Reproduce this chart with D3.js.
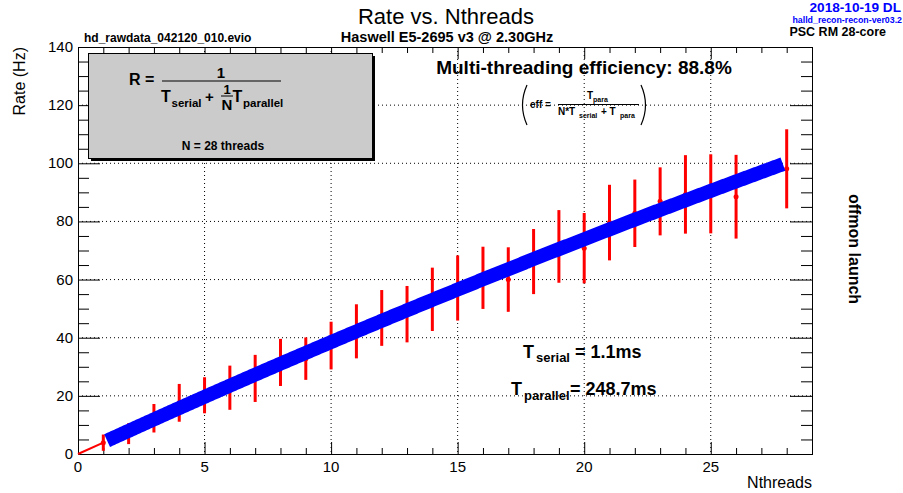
<!DOCTYPE html>
<html><head><meta charset="utf-8">
<script src="https://cdn.jsdelivr.net/npm/d3@7"></script>
<style>
body{margin:0;background:#fff}
svg text{font-family:"Liberation Sans",Arial,Helvetica,sans-serif}
</style>
</head><body>
<svg id="c" width="903" height="493"></svg>
<script>
// ---- data ----
const nThreads   = [1,2,3,4,5,6,7,8,9,10,11,12,13,14,15,16,17,18,19,20,21,22,23,24,25,26,28];
const rates      = [3.9,7.0,12.3,17.6,20.2,22.8,26.0,31.5,32.8,37.3,42.2,46.8,48.1,53.2,57.1,60.6,60.0,66.2,71.4,70.8,79.6,82.8,86.9,89.3,89.5,88.5,98.1];
const rateErrors = [2.8,3.6,4.9,6.5,6.2,7.6,8.1,8.1,7.3,8.2,9.3,9.6,9.7,10.9,11.2,10.7,11.1,11.2,12.5,12.1,13.0,11.6,11.7,13.5,13.6,14.4,13.6];
const xTickLabels = [0,5,10,15,20,25];
const yTickLabels = [0,20,40,60,80,100,120,140];
const tSerial = 1.1;     // ms
const tParallel = 248.7; // ms
const fitRange = [1.15, 27.85];

// ---- layout ----
const svg = d3.select("#c");
const L = 78, R = 812, T = 47, B = 454;
const x = d3.scaleLinear().domain([0, 29]).range([L, R]);
const y = d3.scaleLinear().domain([0, 140]).range([B, T]);

// grid
const g = svg.append("g");
g.selectAll("line.gx").data(xTickLabels.filter(d => d > 0)).join("line")
  .attr("x1", d => x(d)).attr("x2", d => x(d)).attr("y1", T).attr("y2", B)
  .attr("stroke", "#000").attr("stroke-width", 1).attr("stroke-dasharray", "1,3");
g.selectAll("line.gy").data(yTickLabels.filter(d => d > 0 && d < 140)).join("line")
  .attr("y1", d => y(d)).attr("y2", d => y(d)).attr("x1", L).attr("x2", R)
  .attr("stroke", "#000").attr("stroke-width", 1).attr("stroke-dasharray", "1,3");

// axes
const xMinor = d3.range(0, 30, 1);
const yMinor = d3.range(0, 141, 5);
function tickLen(isMajor, maj, min){ return isMajor ? maj : min; }
const axG = svg.append("g").attr("stroke", "#000").attr("stroke-width", 1);
axG.selectAll("line.xb").data(xMinor).join("line")
  .attr("x1", d => x(d)+0.5).attr("x2", d => x(d)+0.5)
  .attr("y1", B).attr("y2", d => B - tickLen(d % 5 === 0, 12, 6));
axG.selectAll("line.xt").data(xMinor).join("line")
  .attr("x1", d => x(d)+0.5).attr("x2", d => x(d)+0.5)
  .attr("y1", T).attr("y2", d => T + tickLen(d % 5 === 0, 12, 6));
axG.selectAll("line.yl").data(yMinor).join("line")
  .attr("y1", d => y(d)+0.5).attr("y2", d => y(d)+0.5)
  .attr("x1", L).attr("x2", d => L + tickLen(d % 20 === 0, 22, 11));
axG.selectAll("line.yr").data(yMinor).join("line")
  .attr("y1", d => y(d)+0.5).attr("y2", d => y(d)+0.5)
  .attr("x1", R).attr("x2", d => R - tickLen(d % 20 === 0, 22, 11));
svg.append("rect").attr("x", L+0.5).attr("y", T+0.5).attr("width", R-L).attr("height", B-T)
  .attr("fill", "none").attr("stroke", "#000").attr("stroke-width", 1);

// tick labels
svg.append("g").selectAll("text").data(xTickLabels).join("text")
  .attr("x", d => x(d)).attr("y", 472).attr("text-anchor", "middle")
  .attr("font-size", 15).text(d => d);
svg.append("g").selectAll("text").data(yTickLabels).join("text")
  .attr("x", 73).attr("y", d => y(d) + 5).attr("text-anchor", "end")
  .attr("font-size", 15).text(d => d);

// axis titles
svg.append("text").attr("x", R).attr("y", 488).attr("text-anchor", "end")
  .attr("font-size", 16).text("Nthreads");
svg.append("text").attr("transform", `translate(25,${T}) rotate(-90)`)
  .attr("text-anchor", "end").attr("font-size", 16).text("Rate (Hz)");

// data: error bars, markers, line from origin
const pts = nThreads.map((n, i) => ({n, r: rates[i], e: rateErrors[i]}));
svg.append("path").datum([{n:0, r:0}, pts[0]])
  .attr("d", d3.line().x(d => x(d.n)).y(d => y(d.r)))
  .attr("stroke", "#ff0000").attr("stroke-width", 2).attr("fill", "none");
svg.append("g").selectAll("line").data(pts).join("line")
  .attr("x1", d => x(d.n)).attr("x2", d => x(d.n))
  .attr("y1", d => y(d.r - d.e)).attr("y2", d => y(d.r + d.e))
  .attr("stroke", "#ff0000").attr("stroke-width", 3);
svg.append("g").selectAll("circle").data(pts).join("circle")
  .attr("cx", d => x(d.n)).attr("cy", d => y(d.r)).attr("r", 2.5)
  .attr("fill", "#ff0000");

// fit curve (drawn over the graph, as in the reference)
const fitN = d3.range(fitRange[0], fitRange[1] + 1e-9, 0.05);
const fitLine = d3.line().x(n => x(n)).y(n => y(1000 / (tSerial + tParallel / n)));
svg.append("path").datum(fitN).attr("d", fitLine)
  .attr("fill", "none").attr("stroke", "#0000ff").attr("stroke-width", 14)
  .attr("stroke-linecap", "butt").attr("stroke-linejoin", "round");

// formula box
svg.append("rect").attr("x", 91).attr("y", 56).attr("width", 284).attr("height", 105).attr("fill", "#000");
svg.append("rect").attr("x", 88.5).attr("y", 53.5).attr("width", 284).attr("height", 105)
  .attr("fill", "#cbcbcb").attr("stroke", "#000").attr("stroke-width", 1);
function txt(xp, yp, s, size, opts = {}) {
  return svg.append("text").attr("x", xp).attr("y", yp).attr("font-size", size)
    .attr("font-weight", opts.weight || "bold").attr("fill", opts.fill || "#000")
    .attr("text-anchor", opts.anchor || "start").text(s);
}
txt(129, 85, "R =", 16);
txt(221, 78, "1", 15, {anchor: "middle"});
svg.append("line").attr("x1", 162).attr("x2", 281).attr("y1", 81).attr("y2", 81).attr("stroke", "#000").attr("stroke-width", 1.2);
txt(161, 102, "T", 16);
txt(171.5, 106.5, "serial", 11.5);
txt(205, 102, "+", 15);
txt(227, 94, "1", 13, {anchor: "middle"});
svg.append("line").attr("x1", 221).attr("x2", 233).attr("y1", 96).attr("y2", 96).attr("stroke", "#000").attr("stroke-width", 1);
txt(227, 110, "N", 15, {anchor: "middle"});
txt(232.5, 102, "T", 16);
txt(243, 106.5, "parallel", 11.5);
txt(223, 150, "N = 28 threads", 12, {anchor: "middle"});

// header texts
txt(446, 24, "Rate vs. Nthreads", 22, {weight: "normal", anchor: "middle"});
txt(84, 42, "hd_rawdata_042120_010.evio", 12);
txt(447, 42, "Haswell E5-2695 v3 @ 2.30GHz", 14.5, {anchor: "middle"});
txt(901, 12.4, "2018-10-19 DL", 13.6, {fill: "#0000ff", anchor: "end"});
txt(902, 23.2, "halld_recon-recon-ver03.2", 8.8, {fill: "#0000ff", anchor: "end"});
txt(886, 36.2, "PSC RM 28-core", 12.5, {anchor: "end"});

// efficiency
txt(584, 74, "Multi-threading efficiency: 88.8%", 19, {anchor: "middle"});
txt(530, 108, "eff =", 10);
svg.append("line").attr("x1", 558).attr("x2", 639).attr("y1", 104.5).attr("y2", 104.5).attr("stroke", "#000").attr("stroke-width", 1);
txt(587, 99, "T", 10);
txt(593, 101.5, "para", 7);
txt(558, 115, "N*T", 10);
txt(579, 118, "serial", 7);
txt(601, 115, "+ T", 10);
txt(620, 118, "para", 7);
svg.append("path").attr("d", "M527,85 Q518,105 527,125").attr("fill", "none").attr("stroke", "#000").attr("stroke-width", 1.2);
svg.append("path").attr("d", "M641,85 Q650,105 641,125").attr("fill", "none").attr("stroke", "#000").attr("stroke-width", 1.2);

// fit params
txt(523, 358, "T", 18);
txt(536, 362, "serial", 13);
txt(575, 358, `= ${tSerial}ms`, 18);
txt(511, 395, "T", 18);
txt(524, 400, "parallel", 13);
txt(570, 395, `= ${tParallel}ms`, 18);

// side label
svg.append("text").attr("transform", "translate(849,249) rotate(90)")
  .attr("text-anchor", "middle").attr("font-size", 16).attr("font-weight", "bold").text("offmon launch");
</script>
</body></html>
